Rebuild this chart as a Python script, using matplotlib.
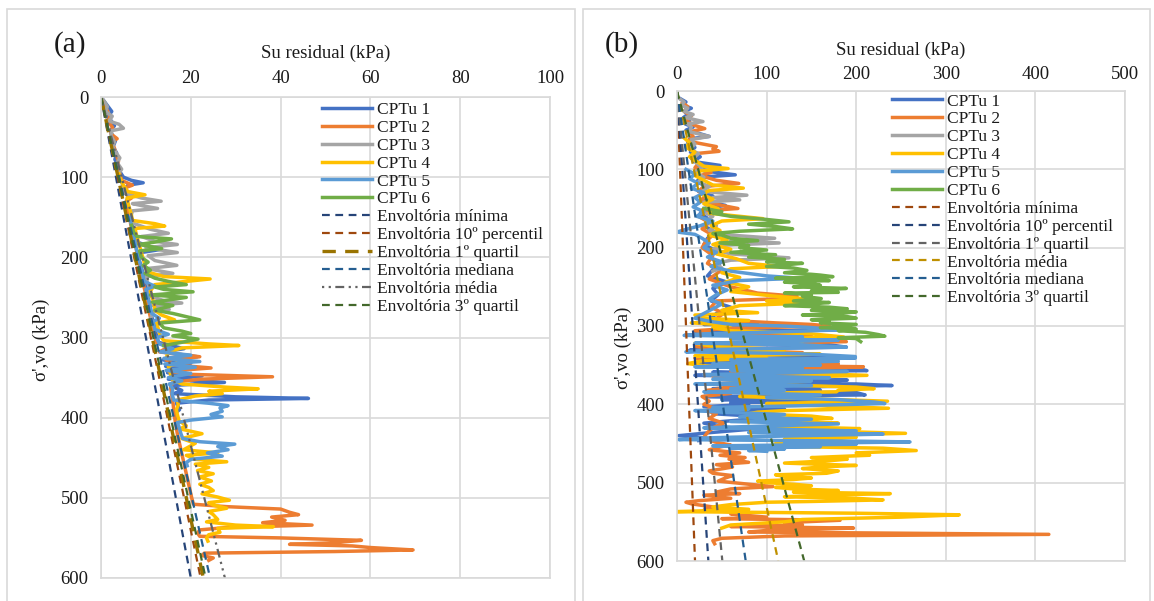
import numpy as np
import matplotlib
matplotlib.use("Agg")
import matplotlib.pyplot as plt
from matplotlib.patches import Rectangle

plt.rcParams['font.family'] = ['Liberation Serif', 'DejaVu Serif']

# ---------------------------
# Data: (sigma'vo kPa, Su residual kPa)
# ---------------------------

# Panel (a)
cptu1_a = [(0, 0), (6, 0.8), (12, 1.6), (18, 2.4), (24, 1.6), (30, 2.3), (36, 3.0), (42, 2.0),
           (48, 2.6), (55, 3.2), (62, 2.7), (70, 3.5), (78, 3.1), (86, 3.9), (94, 4.3), (100, 5.0),
           (104, 6.8), (107, 9.4), (110, 6.0), (116, 5.1), (124, 6.1), (132, 5.6), (140, 6.3),
           (150, 6.6), (160, 7.0), (170, 7.3), (180, 7.6), (186, 10.5), (190, 13.5), (194, 9.0),
           (200, 8.3), (212, 9.0), (224, 9.5), (236, 10.0), (248, 10.4), (260, 10.9), (272, 11.2),
           (284, 11.8), (296, 12.3), (306, 12.8), (314, 18.5), (318, 13.6), (324, 21.5), (328, 13.8),
           (332, 20.0), (336, 14.4), (340, 19.0), (344, 14.8), (348, 22.5), (352, 15.0), (356, 27.5),
           (360, 15.6), (366, 18.0), (370, 16.2), (374, 30.0), (376, 46.2), (378, 24.0), (382, 16.8),
           (390, 17.5), (396, 16.2), (400, 16.8)]
cptu2_a = [(0, 0), (8, 0.6), (16, 1.3), (24, 2.0), (30, 1.5), (38, 2.6), (46, 2.2), (52, 3.6),
           (56, 2.4), (64, 3.0), (72, 3.4), (80, 3.9), (88, 3.5), (96, 4.2), (104, 4.6), (110, 7.0),
           (114, 5.0), (120, 5.4), (126, 6.8), (130, 5.6), (140, 5.8), (152, 6.4), (164, 6.8),
           (176, 7.2), (188, 7.8), (200, 8.2), (214, 8.7), (228, 9.2), (242, 9.8), (256, 10.3),
           (270, 10.8), (284, 11.4), (296, 11.9), (306, 12.3), (312, 15.0), (318, 13.0), (324, 22.0),
           (328, 14.5), (334, 16.0), (338, 24.5), (342, 15.0), (346, 20.0), (349, 38.2), (352, 22.0),
           (356, 16.0), (362, 15.5), (380, 16.0), (400, 16.4), (420, 17.0), (440, 17.8), (460, 18.6),
           (480, 19.4), (500, 20.2), (508, 20.6), (511, 28.0), (514, 40.0), (518, 42.0), (521, 44.0),
           (524, 38.0), (528, 41.0), (531, 36.0), (534, 47.0), (537, 28.0), (540, 22.0), (544, 21.5),
           (548, 22.0), (550, 40.0), (553, 58.0), (556, 52.0), (558, 42.0), (560, 56.0), (562, 60.0),
           (565, 69.5), (567, 52.0), (569, 23.0), (572, 22.5), (575, 25.0), (578, 24.0)]
cptu3_a = [(0, 0), (6, 0.8), (12, 1.4), (18, 1.0), (24, 2.5), (30, 1.8), (34, 4.0), (39, 5.0),
           (42, 2.4), (48, 2.2), (56, 3.0), (62, 2.6), (70, 3.4), (76, 4.2), (82, 3.6), (90, 4.6),
           (96, 3.9), (104, 4.4), (112, 5.0), (120, 5.4), (126, 9.0), (130, 13.4), (133, 7.0),
           (136, 9.5), (139, 12.6), (142, 7.0), (150, 6.6), (158, 7.4), (165, 11.0), (170, 15.0),
           (174, 9.0), (180, 12.0), (184, 17.0), (188, 10.0), (194, 17.0), (198, 10.5), (204, 12.0),
           (210, 16.9), (214, 10.2), (220, 16.0), (224, 10.0), (232, 10.4), (240, 11.0), (248, 10.6),
           (254, 14.0), (257, 18.0), (260, 11.5), (265, 15.2), (268, 11.5), (274, 11.2)]
cptu4_a = [(96, 4.0), (100, 4.2), (106, 4.6), (112, 5.2), (118, 6.0), (122, 9.8), (126, 5.8),
           (132, 6.0), (140, 6.4), (148, 6.8), (154, 7.0), (158, 12.0), (161, 14.2), (164, 7.6),
           (170, 7.8), (178, 8.2), (186, 8.6), (194, 9.0), (202, 9.4), (210, 9.8), (218, 10.2),
           (224, 14.0), (227, 24.3), (230, 19.0), (234, 12.0), (242, 11.0), (250, 11.4), (258, 11.8),
           (266, 12.0), (272, 13.5), (278, 16.4), (282, 12.4), (290, 12.8), (298, 13.2), (304, 14.0),
           (308, 24.0), (310, 30.7), (313, 18.0), (318, 15.0), (324, 14.6), (330, 18.0), (336, 15.0),
           (344, 15.4), (352, 15.8), (358, 18.0), (362, 28.0), (364, 35.0), (367, 24.0), (370, 27.0),
           (373, 21.0), (378, 17.0), (384, 17.2), (390, 16.8), (396, 17.0), (404, 17.4), (410, 19.0),
           (414, 17.6), (420, 22.5), (426, 18.0), (432, 21.0), (440, 18.4), (444, 26.0), (447, 19.0),
           (452, 21.0), (455, 28.0), (458, 21.0), (462, 24.0), (466, 21.5), (470, 25.0), (474, 22.0),
           (479, 24.6), (483, 22.0), (487, 24.0), (491, 25.0), (495, 22.5), (499, 26.0), (503, 28.6),
           (506, 24.0), (509, 25.0), (513, 28.0), (517, 24.0), (521, 25.0), (527, 26.0), (530, 23.5),
           (534, 30.0), (536, 38.4), (538, 26.0), (543, 26.5), (546, 24.0), (550, 23.5), (554, 23.8)]
cptu5_a = [(150, 6.4), (160, 6.8), (170, 7.2), (180, 7.5), (190, 7.9), (200, 8.3), (210, 8.8),
           (220, 9.2), (230, 9.6), (236, 12.0), (240, 10.0), (250, 10.4), (260, 10.9), (270, 11.3),
           (276, 13.0), (280, 11.6), (290, 12.0), (296, 15.0), (300, 12.4), (308, 13.0), (314, 16.0),
           (318, 13.2), (322, 20.0), (326, 14.0), (330, 22.0), (333, 14.2), (337, 21.0), (341, 14.5),
           (345, 20.0), (350, 15.0), (354, 18.0), (358, 15.2), (364, 16.0), (370, 15.8), (378, 16.2),
           (382, 24.0), (385, 28.3), (388, 26.5), (392, 27.0), (396, 24.5), (399, 27.0), (403, 20.0),
           (406, 17.0), (412, 17.4), (420, 17.8), (426, 18.2), (430, 22.0), (433, 29.8), (436, 26.0),
           (440, 28.3), (444, 23.7), (448, 27.0), (452, 20.0), (456, 19.0), (460, 19.2)]
cptu6_a = [(160, 6.8), (168, 7.2), (174, 8.0), (177, 15.7), (181, 12.0), (184, 8.4), (189, 13.5),
           (192, 8.6), (200, 9.0), (206, 10.5), (210, 9.4), (216, 11.0), (220, 9.8), (226, 12.0),
           (230, 15.0), (234, 19.0), (237, 12.0), (240, 14.0), (243, 20.5), (247, 11.0), (250, 19.0),
           (256, 11.4), (260, 16.0), (266, 12.0), (270, 16.0), (278, 22.0), (282, 13.0), (288, 14.0),
           (292, 18.0), (295, 20.0), (298, 16.0), (302, 21.6), (306, 18.0), (310, 14.0)]

# Panel (b)
cptu1_b = [(10, 4), (14, 10), (18, 6), (22, 16), (26, 8), (30, 12), (34, 7), (38, 14), (42, 9),
           (46, 18), (50, 10), (54, 24), (58, 36), (61, 14), (66, 12), (72, 20), (78, 15), (84, 26),
           (90, 18), (95, 48), (98, 22), (102, 30), (107, 65), (110, 26), (116, 22), (122, 34),
           (128, 24), (134, 40), (140, 28), (146, 54), (150, 30), (156, 26), (164, 36), (172, 30),
           (180, 42), (188, 34), (196, 30), (204, 44), (212, 36), (220, 48), (228, 40), (236, 34),
           (244, 56), (252, 40), (260, 46), (268, 38), (276, 60), (284, 44), (292, 36), (296, 90),
           (298, 30), (300, 120), (302, 170), (305, 180), (307, 40), (310, 20), (313, 100), (316, 60),
           (318, 150), (320, 160), (322, 30), (324, 170), (327, 189), (329, 50), (331, 14), (334, 120),
           (336, 48), (338, 150), (341, 198), (343, 30), (345, 80), (347, 20), (349, 160), (351, 50),
           (353, 110), (355, 205), (357, 212), (359, 40), (361, 90), (363, 20), (365, 130), (367, 60),
           (369, 190), (371, 150), (373, 60), (374, 200), (376, 240), (378, 120), (380, 40),
           (382, 160), (384, 60), (385, 200), (388, 210), (390, 30), (392, 100), (394, 50), (396, 160),
           (398, 60), (400, 80), (403, 30), (406, 120), (409, 50), (412, 40), (416, 100), (420, 70),
           (424, 30), (428, 45), (432, 80), (436, 38), (440, 2), (443, 30), (446, 24)]
cptu2_b = [(15, 6), (20, 12), (26, 8), (32, 16), (38, 10), (44, 20), (48, 31), (52, 14), (58, 18),
           (64, 12), (68, 30), (71, 44), (74, 40), (77, 47), (80, 20), (86, 16), (92, 24), (98, 20),
           (104, 38), (108, 26), (114, 44), (118, 69), (122, 30), (128, 24), (134, 32), (140, 26),
           (146, 50), (150, 68), (153, 30), (160, 24), (168, 36), (176, 28), (184, 40), (192, 32),
           (200, 28), (210, 40), (220, 34), (230, 48), (240, 36), (250, 60), (258, 90), (262, 134),
           (265, 120), (268, 44), (276, 38), (284, 52), (292, 42), (296, 110), (298, 150), (300, 170),
           (303, 60), (306, 20), (310, 40), (313, 150), (316, 120), (320, 189), (323, 70), (326, 20),
           (330, 48), (334, 140), (338, 60), (341, 20), (344, 120), (348, 180), (350, 60), (352, 208),
           (355, 130), (358, 60), (361, 150), (364, 40), (366, 50), (370, 100), (374, 40), (378, 70),
           (382, 34), (386, 60), (390, 28), (396, 36), (400, 30), (404, 40), (408, 32), (412, 44),
           (418, 36), (424, 52), (430, 40), (436, 34), (442, 30), (448, 42), (452, 60), (454, 50),
           (458, 36), (462, 70), (465, 48), (468, 76), (470, 58), (474, 80), (477, 44), (480, 62),
           (482, 52), (485, 36), (488, 40), (491, 62), (494, 54), (498, 46), (502, 80), (505, 107),
           (508, 60), (512, 44), (514, 70), (516, 30), (520, 60), (523, 24), (525, 10), (527, 16),
           (531, 40), (535, 30), (538, 70), (540, 60), (544, 100), (546, 50), (548, 182), (551, 120),
           (554, 140), (556, 60), (558, 197), (561, 100), (563, 80), (566, 415), (568, 120), (571, 50),
           (574, 40), (578, 42)]
cptu3_b = [(10, 3), (14, 8), (18, 5), (22, 12), (26, 8), (30, 18), (34, 10), (39, 29), (42, 12),
           (46, 16), (52, 14), (58, 36), (62, 16), (68, 20), (74, 14), (80, 24), (86, 18), (92, 22),
           (98, 28), (104, 20), (110, 30), (116, 24), (122, 36), (128, 28), (133, 78), (136, 40),
           (139, 70), (142, 30), (148, 34), (154, 28), (160, 40), (166, 32), (172, 44), (178, 36),
           (184, 60), (188, 109), (191, 60), (194, 114), (197, 50), (202, 40), (208, 60), (213, 125),
           (216, 60), (220, 44), (226, 50), (230, 40)]
cptu4_b = [(60, 8), (66, 14), (72, 10), (78, 20), (84, 14), (90, 22), (96, 30), (99, 57), (102, 26),
           (108, 20), (114, 30), (120, 40), (124, 74), (127, 36), (132, 28), (138, 40), (144, 30),
           (150, 46), (156, 36), (160, 70), (163, 96), (166, 50), (172, 38), (178, 48), (184, 36),
           (190, 56), (196, 40), (202, 60), (208, 44), (214, 66), (220, 80), (224, 115), (227, 60),
           (232, 50), (238, 70), (244, 54), (250, 80), (256, 60), (262, 110), (265, 141), (268, 100),
           (271, 137), (274, 70), (280, 50), (283, 90), (286, 20), (290, 30), (293, 80), (296, 16),
           (299, 60), (302, 40), (306, 60), (310, 150), (314, 186), (317, 80), (320, 140), (322, 20),
           (326, 40), (330, 120), (333, 60), (336, 160), (338, 20), (341, 100), (344, 30), (348, 12),
           (352, 40), (355, 120), (358, 80), (363, 212), (366, 100), (370, 60), (374, 80), (378, 200),
           (380, 220), (382, 180), (384, 178), (386, 90), (390, 70), (396, 235), (399, 100),
           (402, 160), (405, 236), (408, 120), (410, 90), (412, 80), (415, 150), (418, 173),
           (421, 100), (424, 180), (426, 140), (428, 110), (431, 204), (434, 160), (437, 255),
           (440, 140), (442, 200), (444, 120), (446, 170), (448, 200), (450, 110), (452, 180),
           (454, 130), (456, 230), (459, 267), (462, 200), (465, 215), (468, 150), (470, 190),
           (472, 170), (475, 120), (478, 200), (480, 160), (482, 140), (485, 180), (488, 167),
           (490, 110), (492, 120), (494, 150), (496, 130), (498, 90), (500, 100), (502, 130),
           (504, 150), (506, 110), (508, 130), (510, 180), (512, 130), (514, 238), (516, 160),
           (518, 120), (520, 200), (522, 230), (524, 150), (525, 100), (528, 60), (531, 40), (534, 80),
           (537, 0), (539, 200), (541, 315), (544, 250), (547, 140), (550, 120), (554, 60), (558, 50)]
cptu5_b = [(100, 10), (106, 20), (112, 14), (118, 24), (124, 16), (130, 30), (136, 20), (142, 26),
           (148, 18), (154, 30), (160, 22), (166, 40), (172, 26), (176, 12), (180, 0), (183, 20),
           (188, 28), (194, 36), (200, 30), (206, 44), (212, 34), (218, 50), (224, 38), (230, 60),
           (236, 100), (239, 137), (242, 70), (248, 40), (254, 56), (260, 44), (266, 36), (272, 50),
           (278, 40), (284, 30), (290, 20), (294, 36), (298, 60), (300, 120), (302, 150), (305, 180),
           (308, 100), (310, 30), (312, 8), (314, 140), (316, 60), (318, 180), (320, 120), (322, 20),
           (324, 140), (327, 189), (330, 40), (333, 10), (335, 120), (336, 150), (339, 199),
           (341, 199), (343, 60), (345, 180), (347, 100), (348, 40), (350, 160), (352, 20), (354, 140),
           (356, 60), (358, 190), (360, 120), (362, 30), (364, 80), (366, 170), (368, 40), (370, 150),
           (372, 100), (374, 20), (376, 150), (378, 80), (380, 60), (382, 120), (384, 30), (386, 100),
           (388, 160), (391, 100), (394, 180), (397, 220), (399, 232), (402, 130), (404, 40),
           (406, 80), (408, 20), (410, 50), (413, 120), (416, 70), (419, 150), (422, 60), (425, 180),
           (428, 90), (430, 30), (432, 120), (434, 200), (436, 80), (438, 230), (440, 140), (442, 60),
           (443, 30), (445, 2), (447, 200), (448, 260), (450, 120), (451, 200), (453, 40), (454, 160),
           (456, 60), (457, 120), (459, 80), (460, 100)]
cptu6_b = [(150, 30), (154, 50), (156, 40), (160, 60), (164, 100), (167, 125), (170, 80), (173, 110),
           (176, 129), (179, 70), (182, 40), (184, 50), (188, 60), (191, 90), (194, 48), (197, 80),
           (200, 70), (203, 100), (206, 60), (209, 110), (212, 80), (215, 120), (218, 100), (220, 140),
           (222, 120), (224, 100), (226, 130), (229, 145), (232, 120), (234, 150), (235, 160),
           (237, 174), (239, 110), (240, 140), (242, 170), (244, 120), (246, 150), (248, 160),
           (250, 130), (252, 189), (255, 150), (257, 180), (258, 120), (260, 150), (262, 140),
           (265, 161), (268, 130), (270, 170), (272, 150), (274, 120), (276, 170), (278, 190),
           (280, 150), (282, 200), (284, 180), (286, 140), (288, 190), (290, 200), (292, 150),
           (293, 170), (296, 160), (298, 200), (300, 190), (302, 160), (304, 200), (306, 180),
           (308, 210), (311, 225), (313, 232), (315, 180), (316, 200), (320, 205)]

# Envelope lines: Su at sigma'vo = 600 kPa (lines start at the origin)
env_names_a = ["Envoltória mínima", "Envoltória 10º percentil", "Envoltória 1º quartil",
               "Envoltória mediana", "Envoltória média", "Envoltória 3º quartil"]
env_su600_a = [20.0, 22.2, 22.8, 24.3, 27.6, 23.3]
env_names_b = ["Envoltória mínima", "Envoltória 10º percentil", "Envoltória 1º quartil",
               "Envoltória média", "Envoltória mediana", "Envoltória 3º quartil"]
env_su600_b = [20.1, 35.0, 50.6, 113.0, 76.7, 142.0]

cptu_names = ["CPTu 1", "CPTu 2", "CPTu 3", "CPTu 4", "CPTu 5", "CPTu 6"]
cptu_colors = ["#4472C4", "#ED7D31", "#A5A5A5", "#FFC000", "#5B9BD5", "#70AD47"]

# styles: (color, linewidth, dash pattern)
env_style_a = [("#264478", 1.6, (3.5, 2.5)),
               ("#9E480E", 1.6, (3.5, 2.5)),
               ("#997300", 2.4, (4.0, 2.8)),
               ("#255E91", 1.6, (3.5, 2.5)),
               ("#636363", 1.6, (1.0, 2.0, 1.0, 2.0, 4.0, 2.0)),
               ("#43682B", 1.6, (3.5, 2.5))]
env_style_b = [("#9E480E", 1.6, (3.5, 2.5)),
               ("#264478", 1.6, (3.5, 2.5)),
               ("#636363", 1.6, (3.5, 2.5)),
               ("#BF9000", 1.6, (3.5, 2.5)),
               ("#255E91", 1.6, (3.5, 2.5)),
               ("#43682B", 1.6, (3.5, 2.5))]

GRID = "#D9D9D9"
TXT = "#1a1a1a"

fig = plt.figure(figsize=(11.54, 6.01), dpi=100)

# chart area borders
fig.patches.append(Rectangle((7 / 1154, -0.01), 568 / 1154, 1 - 9 / 601 + 0.01,
                             transform=fig.transFigure, fill=False, ec=GRID, lw=1.2))
fig.patches.append(Rectangle((583 / 1154, -0.01), 567 / 1154, 1 - 9 / 601 + 0.01,
                             transform=fig.transFigure, fill=False, ec=GRID, lw=1.2))


def draw_panel(ax, series, env_names, env_su600, env_styles, xmax, xstep, tpad, lpad):
    for data, name, c in zip(series, cptu_names, cptu_colors):
        arr = np.array(data, dtype=float)
        ax.plot(arr[:, 1], arr[:, 0], color=c, lw=2.5, label=name, solid_joinstyle="round")
    for name, su600, (c, lw, dash) in zip(env_names, env_su600, env_styles):
        ax.plot([0, su600], [0, 600], color=c, lw=lw, dashes=dash, label=name)

    ax.set_xlim(0, xmax)
    ax.set_ylim(600, 0)
    ax.set_xticks(np.arange(0, xmax + 1, xstep))
    ax.set_yticks(np.arange(0, 601, 100))
    ax.xaxis.tick_top()
    ax.xaxis.set_label_position("top")
    ax.tick_params(length=0, labelsize=13.5, colors=TXT)
    ax.tick_params(axis="x", pad=tpad)
    ax.tick_params(axis="y", pad=9)
    ax.grid(True, color=GRID, lw=1.2)
    ax.set_axisbelow(True)
    for sp in ax.spines.values():
        sp.set_color(GRID)
        sp.set_linewidth(1.2)
    ax.set_xlabel("Su residual (kPa)", fontsize=13.5, color=TXT, labelpad=lpad)
    ax.set_ylabel("σ',vo (kPa)", fontsize=13.5, color=TXT)


ax_a = fig.add_axes([101 / 1154, 1 - 578 / 601, 449 / 1154, 481 / 601])
draw_panel(ax_a, [cptu1_a, cptu2_a, cptu3_a, cptu4_a, cptu5_a, cptu6_a],
           env_names_a, env_su600_a, env_style_a, 100, 20, 7, 9)
ax_a.yaxis.set_label_coords(-0.113, 0.495)
ax_a.legend(loc="upper left", bbox_to_anchor=(0.492, 0.99), frameon=False, fontsize=12.5,
            handlelength=2.9, handletextpad=0.25, labelspacing=0.1, borderpad=0,
            borderaxespad=0, labelcolor=TXT)

ax_b = fig.add_axes([677 / 1154, 1 - 561 / 601, 448 / 1154, 470 / 601])
draw_panel(ax_b, [cptu1_b, cptu2_b, cptu3_b, cptu4_b, cptu5_b, cptu6_b],
           env_names_b, env_su600_b, env_style_b, 500, 100, 6, 8)
ax_b.yaxis.set_label_coords(-0.10, 0.453)
ax_b.legend(loc="upper left", bbox_to_anchor=(0.48, 0.995), frameon=False, fontsize=12.5,
            handlelength=2.9, handletextpad=0.25, labelspacing=0.1, borderpad=0,
            borderaxespad=0, labelcolor=TXT)

fig.text(70 / 1154, 1 - 45 / 601, "(a)", fontsize=21, ha="center", va="center", color=TXT)
fig.text(622 / 1154, 1 - 45 / 601, "(b)", fontsize=21, ha="center", va="center", color=TXT)

fig.savefig("out.png", dpi=100)
